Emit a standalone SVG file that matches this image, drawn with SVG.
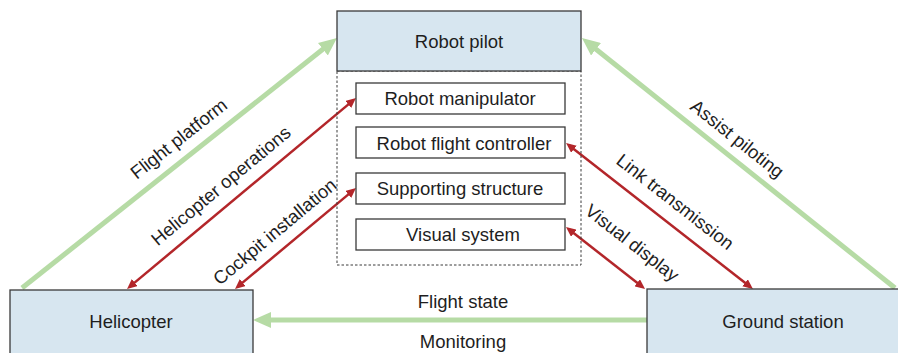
<svg xmlns="http://www.w3.org/2000/svg" width="898" height="353" viewBox="0 0 898 353">
<style>
.box{fill:#d7e6f0;stroke:#3a3a3a;stroke-width:1.3}
.sub{fill:#ffffff;stroke:#3a3a3a;stroke-width:1.3}
.dash{fill:none;stroke:#3a3a3a;stroke-width:1;stroke-dasharray:2.5,2}
text{font-family:"Liberation Sans",Arial,sans-serif;font-size:18.5px;fill:#1e1e1e}
.c{text-anchor:middle}
.g{stroke:#b6dba5;stroke-width:5;fill:none}
.r{stroke:#b3262a;stroke-width:2.5;fill:none}
</style>
<defs>
<marker id="ga" markerUnits="userSpaceOnUse" markerWidth="18" markerHeight="16" refX="10" refY="8" orient="auto"><path d="M0,0 L18,8 L0,16 z" fill="#b6dba5"/></marker>
<marker id="ra" markerUnits="userSpaceOnUse" markerWidth="10" markerHeight="9" refX="6" refY="4.5" orient="auto-start-reverse"><path d="M0,0 L10,4.5 L0,9 z" fill="#b3262a"/></marker>
</defs>
<g id="connectors">
<line class="g" x1="22" y1="288" x2="330.7" y2="43" marker-end="url(#ga)"/>
<line class="g" x1="895" y1="288" x2="588.2" y2="43" marker-end="url(#ga)"/>
<line class="g" x1="647" y1="320" x2="261" y2="320" marker-end="url(#ga)"/>
<line class="r" x1="352.9" y1="100.6" x2="130.1" y2="286.4" marker-start="url(#ra)" marker-end="url(#ra)"/>
<line class="r" x1="352.9" y1="190.6" x2="238.1" y2="286.4" marker-start="url(#ra)" marker-end="url(#ra)"/>
<line class="r" x1="569.2" y1="145.5" x2="749.8" y2="286.5" marker-start="url(#ra)" marker-end="url(#ra)"/>
<line class="r" x1="569.1" y1="229.5" x2="641.9" y2="286.5" marker-start="url(#ra)" marker-end="url(#ra)"/>
<text class="c" transform="translate(179,139) rotate(-38.4)" y="6">Flight platform</text>
<text class="c" transform="translate(221,186) rotate(-39.8)" y="6">Helicopter operations</text>
<text class="c" transform="translate(275,232) rotate(-39.9)" y="6">Cockpit installation</text>
<text class="c" transform="translate(737,139) rotate(38.6)" y="6">Assist piloting</text>
<text class="c" transform="translate(675,202) rotate(38)" y="6">Link transmission</text>
<text class="c" transform="translate(632,243) rotate(38)" y="6">Visual display</text>
<text class="c" x="463" y="308">Flight state</text>
<text class="c" x="463" y="348">Monitoring</text>
</g>
<g id="robot-pilot">
<rect class="dash" x="337" y="71" width="244" height="194"/>
<rect class="box" x="337" y="11" width="244" height="60"/>
<text class="c" x="459" y="48">Robot pilot</text>
</g>
<g id="robot-manipulator">
<rect class="sub" x="356" y="83" width="209" height="31"/>
<text class="c" x="460" y="105">Robot manipulator</text>
</g>
<g id="robot-flight-controller">
<rect class="sub" x="356" y="127" width="209" height="31"/>
<text class="c" x="464" y="150">Robot flight controller</text>
</g>
<g id="supporting-structure">
<rect class="sub" x="356" y="173" width="209" height="31"/>
<text class="c" x="460" y="195">Supporting structure</text>
</g>
<g id="visual-system">
<rect class="sub" x="356" y="219" width="209" height="31"/>
<text class="c" x="463" y="241">Visual system</text>
</g>
<g id="helicopter">
<rect class="box" x="10" y="290" width="243" height="70"/>
<text class="c" x="131" y="328">Helicopter</text>
</g>
<g id="ground-station">
<rect class="box" x="647" y="289" width="270" height="70"/>
<text class="c" x="783" y="328">Ground station</text>
</g>
</svg>
